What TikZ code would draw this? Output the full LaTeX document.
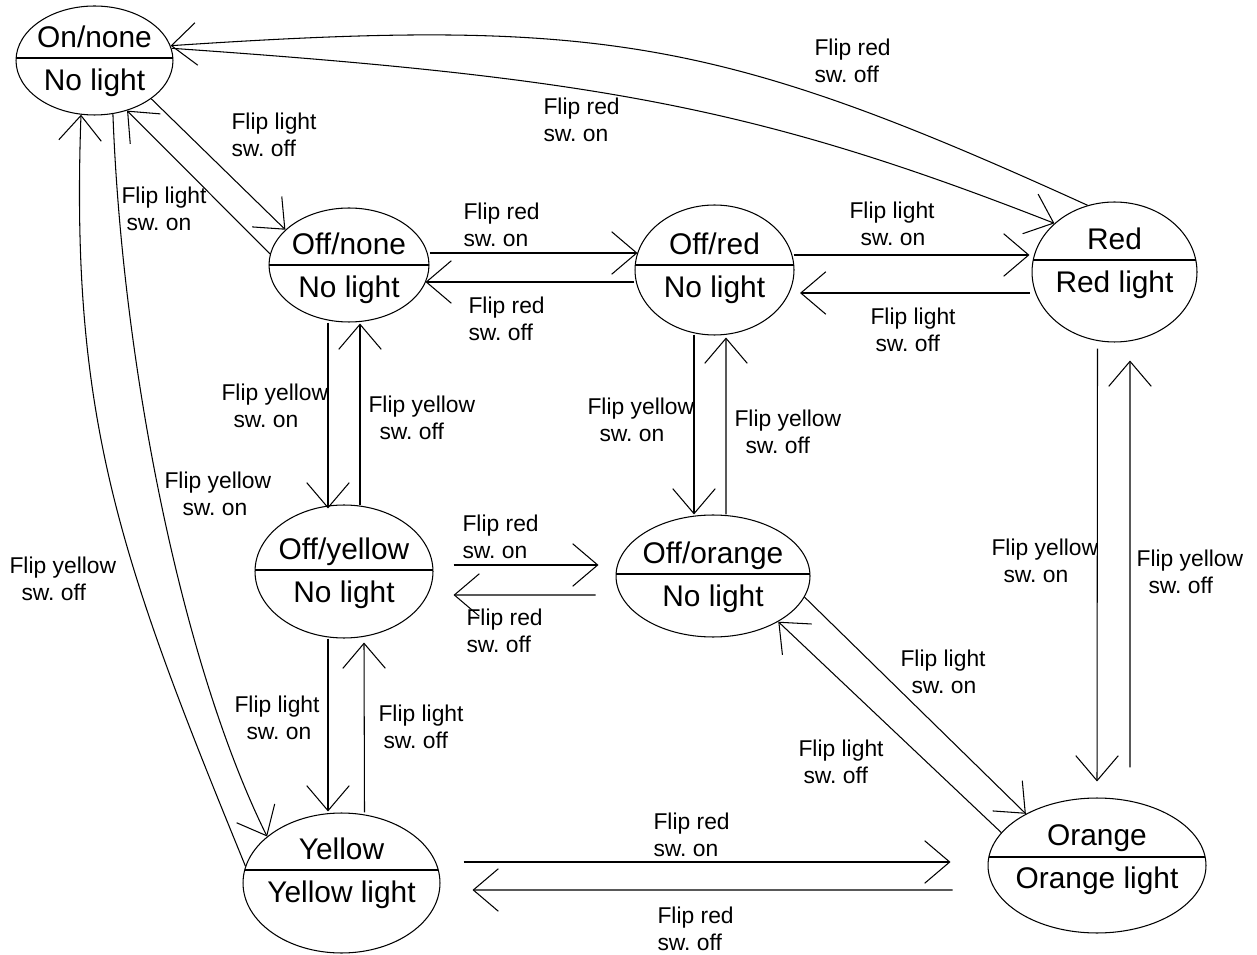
\documentclass[tikz,border=0pt]{standalone}
\usepackage{fontspec}
\setmainfont{Liberation Sans}
\usetikzlibrary{arrows.meta,shapes.geometric}
\frenchspacing
\newcommand{\statefont}{\fontsize{17}{24.5}\selectfont}
\newcommand{\flipfont}{\fontsize{13}{15.4}\selectfont}

\begin{document}
\begin{tikzpicture}[x=0.02cm,y=-0.02cm,line width=0.6pt,>={Straight Barb[length=0.5cm,width=0.85cm]},
  lamp/.style n args={3}{ellipse,draw,inner sep=0pt,
    path picture={\draw[-] ([yshift=#3*0.02cm]path picture bounding box.west) -- ([yshift=#3*0.02cm]path picture bounding box.east);},
    label={[font=\statefont,align=center,inner sep=0pt,yshift=(#3-3)*0.02cm]center:#1\\#2}},
  flip/.style={font=\flipfont,align=left,inner sep=0pt,anchor=west}]
\useasboundingbox (0,0) rectangle (1257,955);
\node[lamp={On/none}{No light}{2.5}, minimum width=3.14cm, minimum height=2.18cm] (on) at (94.5,60.5) {};
\node[lamp={Off/none}{No light}{0}, minimum width=3.2cm, minimum height=2.28cm] (offnone) at (349,265) {};
\node[lamp={Off/red}{No light}{5}, minimum width=3.18cm, minimum height=2.6cm] (offred) at (714.5,270) {};
\node[lamp={Red}{Red light}{12}, minimum width=3.3cm, minimum height=2.8cm] (red) at (1114.5,272) {};
\node[lamp={Off/yellow}{No light}{1.5}, minimum width=3.56cm, minimum height=2.66cm] (offyel) at (344,571.5) {};
\node[lamp={Off/orange}{No light}{2}, minimum width=3.88cm, minimum height=2.44cm] (offora) at (713,576) {};
\node[lamp={Yellow}{Yellow light}{13}, minimum width=3.94cm, minimum height=2.8cm] (yellow) at (341.5,883) {};
\node[lamp={Orange}{Orange light}{8.5}, minimum width=4.36cm, minimum height=2.7cm] (orange) at (1097,865.5) {};
\draw[->] (on.-34) -- (offnone.151);
\draw[->] (offnone.172) -- (on.-57);
\draw[->] (on.9) .. controls (600,78) and (760,108) .. (red.141);
\draw[->] (red.112) .. controls (720,38) and (600,17) .. (on.11);
\draw[->] ([shift={(0,-12)}]offnone.east) -- ([shift={(3,-17)}]offred.west);
\draw[->] ([shift={(0,12)}]offred.west) -- ([shift={(-4,17)}]offnone.east);
\draw[->] ([shift={(-1,-15)}]offred.east) -- ([shift={(-2,-17)}]red.west);
\draw[->] ([shift={(-2,21)}]red.west) -- ([shift={(5.5,23)}]offred.east);
\draw[->] ([shift={(-21,0)}]offnone.south) -- ([shift={(-16,4)}]offyel.north);
\draw[->] ([shift={(16,1)}]offyel.north) -- ([shift={(11,1)}]offnone.south);
\draw[->] ([shift={(-20.5,-1)}]offred.south) -- ([shift={(-19,0)}]offora.north);
\draw[->] ([shift={(13,0)}]offora.north) -- ([shift={(11.5,2)}]offred.south);
\draw[->] ([shift={(20,-6.5)}]offyel.east) -- ([shift={(-17,-11)}]offora.west);
\draw[->] ([shift={(-20,19)}]offora.west) -- ([shift={(20,23.5)}]offyel.east);
\draw[->] ([shift={(-16,0)}]offyel.south) -- ([shift={(-13.5,-1)}]yellow.north);
\draw[->] ([shift={(23,0)}]yellow.north) -- ([shift={(20,4)}]offyel.south);
\draw[->] (offora.-13) -- (orange.144);
\draw[->] (orange.161) -- (offora.-35);
\draw[->] ([shift={(-17,6)}]red.south) -- ([shift={(0,-16)}]orange.north);
\draw[->] ([shift={(33,-30)}]orange.north) -- ([shift={(15.5,18)}]red.south);
\draw[->] ([shift={(23,-21)}]yellow.east) -- ([shift={(-37,-3.5)}]orange.west);
\draw[->] ([shift={(-35,24.5)}]orange.west) -- ([shift={(32,7)}]yellow.east);
\draw[->] (on.-71) .. controls (122,360) and (180,660) .. (yellow.148);
\draw[->] (yellow.170) .. controls (120,560) and (70,420) .. (on.-104);
\node[flip] (t1) at (231,134.5) {Flip light\\sw. off};
\node[flip] (t2) at (121,208.5) {Flip light\\\hspace*{0.1cm}sw. on};
\node[flip] (t3) at (543,119.5) {Flip red\\sw. on};
\node[flip] (t4) at (814,60.5) {Flip red\\sw. off};
\node[flip] (t5) at (463,224.5) {Flip red\\sw. on};
\node[flip] (t6) at (468,318.5) {Flip red\\sw. off};
\node[flip] (t7) at (849,223.5) {Flip light\\\hspace*{0.22cm}sw. on};
\node[flip] (t8) at (870,329.5) {Flip light\\\hspace*{0.1cm}sw. off};
\node[flip] (t9) at (221,405.5) {Flip yellow\\\hspace*{0.24cm}sw. on};
\node[flip] (t10) at (368,417.5) {Flip yellow\\\hspace*{0.22cm}sw. off};
\node[flip] (t11) at (587,419.5) {Flip yellow\\\hspace*{0.24cm}sw. on};
\node[flip] (t12) at (734,431.5) {Flip yellow\\\hspace*{0.22cm}sw. off};
\node[flip] (t13) at (164,493.5) {Flip yellow\\\hspace*{0.36cm}sw. on};
\node[flip] (t14) at (9,578.5) {Flip yellow\\\hspace*{0.24cm}sw. off};
\node[flip] (t15) at (462,536.5) {Flip red\\sw. on};
\node[flip] (t16) at (466,630.5) {Flip red\\sw. off};
\node[flip] (t17) at (234,717.5) {Flip light\\\hspace*{0.24cm}sw. on};
\node[flip] (t18) at (378,726.5) {Flip light\\\hspace*{0.1cm}sw. off};
\node[flip] (t19) at (900,671.5) {Flip light\\\hspace*{0.22cm}sw. on};
\node[flip] (t20) at (798,761.5) {Flip light\\\hspace*{0.1cm}sw. off};
\node[flip] (t21) at (991,560.5) {Flip yellow\\\hspace*{0.24cm}sw. on};
\node[flip] (t22) at (1136,571.5) {Flip yellow\\\hspace*{0.24cm}sw. off};
\node[flip] (t23) at (653,834.5) {Flip red\\sw. on};
\node[flip] (t24) at (657,928.5) {Flip red\\sw. off};
\end{tikzpicture}
\end{document}
